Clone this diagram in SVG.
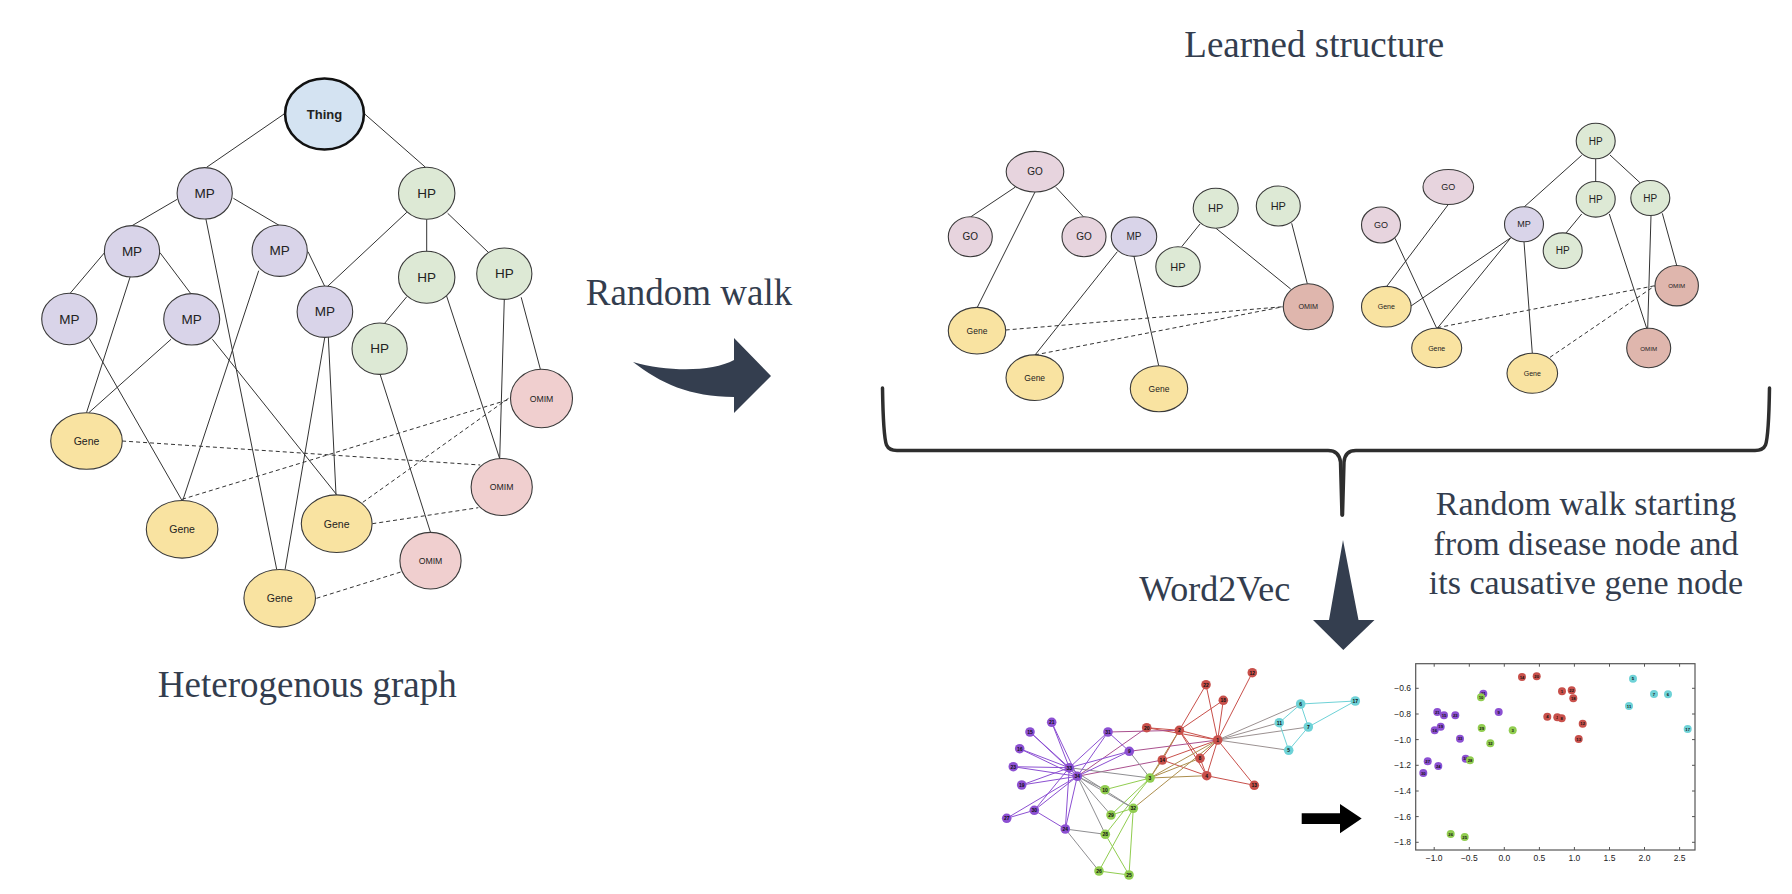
<svg xmlns="http://www.w3.org/2000/svg" width="1792" height="894" viewBox="0 0 1792 894">
<style>
.n{stroke:#3a3a3a;stroke-width:1.1}
.mp{fill:#d9d4e9}.hp{fill:#dde9d5}.gene{fill:#f9e3a1}.omim{fill:#f0cfcf}.omim2{fill:#dfb6ad}.go{fill:#e7d4de}
.thing{fill:#d4e3f2;stroke:#111;stroke-width:2.6}
.e{stroke:#333;stroke-width:1;fill:none}
.d{stroke-dasharray:4 3}
.t{font-family:"Liberation Sans",Arial,sans-serif;text-anchor:middle;dominant-baseline:central;fill:#222}
.ttl{font-family:"Liberation Serif","Times New Roman",serif;fill:#333d4e;text-anchor:middle}
.kn{stroke:none}
.kl{font-family:"Liberation Sans",Arial,sans-serif;font-weight:bold;font-size:5px;text-anchor:middle;dominant-baseline:central;fill:#111}
.sl{font-family:"Liberation Sans",Arial,sans-serif;font-weight:bold;font-size:4.2px;text-anchor:middle;dominant-baseline:central;fill:#111}
.P{fill:#8c50d2}.R{fill:#c8504b}.G{fill:#91cd50}.C{fill:#6ed2d7}
.ax{font-family:"Liberation Sans",Arial,sans-serif;font-size:8.5px;fill:#222}
.ke{fill:none;stroke-width:1}
</style>

<!-- Titles -->
<text class="ttl" x="307.3" y="697" font-size="37">Heterogenous graph</text>
<text class="ttl" x="689" y="305" font-size="37">Random walk</text>
<text class="ttl" x="1314.3" y="57.3" font-size="37">Learned structure</text>
<text class="ttl" x="1214.7" y="601" font-size="36">Word2Vec</text>
<text class="ttl" font-size="34"><tspan x="1586" y="515">Random walk starting</tspan><tspan x="1586" y="554.5">from disease node and</tspan><tspan x="1586" y="594">its causative gene node</tspan></text>

<!-- Arrows and brace -->
<path d="M633,362 C668,372 712,372 734,360 L734,338 L771,376 L734,413 L734,397 C690,397 660,383 633,362 Z" fill="#343e4f"/>
<g fill="none" stroke="#2e2e2e" stroke-width="3.5" stroke-linecap="round" stroke-linejoin="round">
<path d="M882.5,388 C883,420 884,438 886.5,445 Q889,450.5 897,450.5 L1328,450.5 Q1339,450.5 1340.5,462 L1342,515"/>
<path d="M1769.5,388 C1769,420 1768,438 1765.5,445 Q1763,450.5 1755,450.5 L1356,450.5 Q1345,450.5 1344,462 L1342.5,515"/>
</g>
<path d="M1343,540 L1358.5,620 L1374.5,620 L1343.3,650 L1313,620 L1329,620 Z" fill="#343e4f"/>
<path d="M1301.7,813.3 H1340 V804 L1361.7,818.6 L1340,833.3 V824 H1301.7 Z" fill="#000"/>

<!-- Connectors -->
<g id="connectors">
<g class="e">
<path d="M285.1,113.3L206.6,167.3M364.7,114L425.5,167.3M177.2,199.3L132,225.7M233.4,198.3L279.7,225.7M205.9,219L276.7,569.3M104.5,252.7L69.3,294.3M160,252.7L191.3,294.3M130.1,277L86.5,412.7M89.2,338.3L182.1,500.7M171,339.3L88.8,412.7M212.4,339.3L336.7,494.7M258.7,270.7L182.9,500M308,251.7L324.9,286.7M406.8,212.3L327.2,286.7M426.7,219.3L426.7,252.3M447.7,213.3L488.7,252.7M324.9,336.7L285.1,569.3M328.3,336.7L336,494.7M406.8,296.7L384.6,323.3M446.6,296L499.7,458.7M504.3,298.7L499.7,458.7M521.2,297.3L540.3,369M380,374L430.5,532.3"/>
<path class="d" d="M122.1,441L480.2,465M182.1,499.3L510.8,399M362.8,502.3L510.8,396.7M372.3,523.7L478.3,507.7M316.5,598.3L401.8,571.7"/>
<path d="M1015,187.3L971,216.7M1056,187.3L1083.3,216.7M1035,192L977.3,307.3M1117.3,251.7L1035,355M1134,256.4L1158.7,365.7M1200,224L1181.7,246.7M1216,228.3L1290.7,289M1291.7,223.3L1307.3,283.7"/>
<path class="d" d="M1005.7,330L1283.3,306.7M1035,354.9L1283.3,306.7"/>
<path d="M1581.7,155.3L1524.3,206.8M1595.7,158.8L1595.7,181.5M1610,155L1640,182.7M1581.7,214L1566,233M1609.3,214L1646.7,328.3M1651,215.5L1647.7,328.3M1662.3,213.3L1676.7,265.5M1448.3,204.5L1386.7,286.4M1395,238.3L1436.7,328.3M1510,238.3L1411,306M1511.7,236.7L1437.3,328.3M1524,241.8L1532.3,353.3"/>
<path class="d" d="M1437.3,327.7L1655,285.7M1550,357.3L1655,285.7"/>
</g>
<g id="karate-edges" class="ke">
<path stroke="#c8504b" d="M1217.7,740L1179.3,730.3M1217.7,740L1206.7,775.7M1217.7,740L1200,758.3M1217.7,740L1252.3,672.7M1217.7,740L1254.3,785.3M1217.7,740L1162.3,760M1217.7,740L1223.3,700.3M1217.7,740L1146.7,727.7M1217.7,740L1206,684.7M1179.3,730.3L1206.7,775.7M1179.3,730.3L1200,758.3M1179.3,730.3L1162.3,760M1179.3,730.3L1223.3,700.3M1179.3,730.3L1146.7,727.7M1179.3,730.3L1206,684.7M1206.7,775.7L1200,758.3M1206.7,775.7L1254.3,785.3M1206.7,775.7L1162.3,760"/>
<path stroke="#ac8e4d" d="M1217.7,740L1150,778M1217.7,740L1133.3,808.3M1179.3,730.3L1150,778M1150,778L1206.7,775.7M1150,778L1200,758.3M1150,778L1162.3,760"/>
<path stroke="#9b9191" d="M1217.7,740L1288.7,750.3M1217.7,740L1300.7,704M1217.7,740L1308.3,727M1217.7,740L1279.3,722.7"/>
<path stroke="#aa508e" d="M1217.7,740L1129.3,751.3M1179.3,730.3L1108,732M1162.3,760L1077.3,776.3M1146.7,727.7L1077.3,776.3"/>
<path stroke="#91cd50" d="M1150,778L1105,789.7M1150,778L1105.3,834.3M1150,778L1111,815M1129,875L1099,871M1129,875L1105.3,834.3M1129,875L1133.3,808.3M1099,871L1133.3,808.3M1111,815L1133.3,808.3"/>
<path stroke="#8e8e91" d="M1150,778L1129.3,751.3M1150,778L1069.3,767.7M1105,789.7L1077.3,776.3M1065.3,829L1099,871M1065.3,829L1105.3,834.3M1105.3,834.3L1077.3,776.3M1111,815L1077.3,776.3M1133.3,808.3L1069.3,767.7M1133.3,808.3L1077.3,776.3"/>
<path stroke="#6ed2d7" d="M1288.7,750.3L1308.3,727M1288.7,750.3L1279.3,722.7M1300.7,704L1308.3,727M1300.7,704L1279.3,722.7M1300.7,704L1355.3,701M1308.3,727L1355.3,701"/>
<path stroke="#8c50d2" d="M1129.3,751.3L1108,732M1129.3,751.3L1069.3,767.7M1129.3,751.3L1077.3,776.3M1030,732L1069.3,767.7M1030,732L1077.3,776.3M1019.7,748.7L1069.3,767.7M1019.7,748.7L1077.3,776.3M1021.7,785L1069.3,767.7M1021.7,785L1077.3,776.3M1051.7,722.3L1069.3,767.7M1051.7,722.3L1077.3,776.3M1013.3,766.7L1069.3,767.7M1013.3,766.7L1077.3,776.3M1065.3,829L1034.3,810.3M1065.3,829L1069.3,767.7M1065.3,829L1077.3,776.3M1006.7,818.3L1034.3,810.3M1006.7,818.3L1077.3,776.3M1034.3,810.3L1069.3,767.7M1034.3,810.3L1077.3,776.3M1108,732L1069.3,767.7M1108,732L1077.3,776.3M1069.3,767.7L1077.3,776.3"/>
</g>
</g>

<!-- Heterogenous graph nodes -->
<g id="thing"><ellipse class="thing" cx="324.5" cy="114" rx="39.4" ry="35.5"/><text class="t" x="324.5" y="114" font-size="13" font-weight="bold">Thing</text></g>
<g id="mp1"><ellipse class="n mp" cx="204.7" cy="193.3" rx="27.6" ry="25.7"/><text class="t" x="204.7" y="193.3" font-size="13.5">MP</text></g>
<g id="hp1"><ellipse class="n hp" cx="426.7" cy="193.3" rx="28.2" ry="26"/><text class="t" x="426.7" y="193.3" font-size="13.5">HP</text></g>
<g id="mp2"><ellipse class="n mp" cx="132" cy="251.3" rx="27.6" ry="25.7"/><text class="t" x="132" y="251.3" font-size="13.5">MP</text></g>
<g id="mp3"><ellipse class="n mp" cx="279.7" cy="250.7" rx="27.6" ry="25.7"/><text class="t" x="279.7" y="250.7" font-size="13.5">MP</text></g>
<g id="hp2"><ellipse class="n hp" cx="426.7" cy="277.3" rx="28.2" ry="26"/><text class="t" x="426.7" y="277.3" font-size="13.5">HP</text></g>
<g id="hp3"><ellipse class="n hp" cx="504.3" cy="273.7" rx="27.6" ry="25.7"/><text class="t" x="504.3" y="273.7" font-size="13.5">HP</text></g>
<g id="mp4"><ellipse class="n mp" cx="69.3" cy="319" rx="27.6" ry="25.7"/><text class="t" x="69.3" y="319" font-size="13.5">MP</text></g>
<g id="mp5"><ellipse class="n mp" cx="191.7" cy="319.3" rx="28" ry="25.7"/><text class="t" x="191.7" y="319.3" font-size="13.5">MP</text></g>
<g id="mp6"><ellipse class="n mp" cx="324.9" cy="311.7" rx="27.8" ry="25.7"/><text class="t" x="324.9" y="311.7" font-size="13.5">MP</text></g>
<g id="hp4"><ellipse class="n hp" cx="379.6" cy="348.7" rx="27.6" ry="25.7"/><text class="t" x="379.6" y="348.7" font-size="13.5">HP</text></g>
<g id="omim1"><ellipse class="n omim" cx="541.5" cy="398.5" rx="31" ry="29.2"/><text class="t" x="541.5" y="398.5" font-size="8.7">OMIM</text></g>
<g id="omim2"><ellipse class="n omim" cx="501.7" cy="487" rx="30.6" ry="28.5"/><text class="t" x="501.7" y="487" font-size="8.7">OMIM</text></g>
<g id="omim3"><ellipse class="n omim" cx="430.5" cy="560.7" rx="30.6" ry="28.3"/><text class="t" x="430.5" y="560.7" font-size="8.7">OMIM</text></g>
<g id="gene1"><ellipse class="n gene" cx="86.5" cy="441" rx="35.8" ry="28.3"/><text class="t" x="86.5" y="441" font-size="10.5">Gene</text></g>
<g id="gene2"><ellipse class="n gene" cx="182.1" cy="529.3" rx="35.8" ry="28.8"/><text class="t" x="182.1" y="529.3" font-size="10.5">Gene</text></g>
<g id="gene3"><ellipse class="n gene" cx="336.7" cy="523.7" rx="35.4" ry="28.8"/><text class="t" x="336.7" y="523.7" font-size="10.5">Gene</text></g>
<g id="gene4"><ellipse class="n gene" cx="279.7" cy="598.3" rx="35.8" ry="28.8"/><text class="t" x="279.7" y="598.3" font-size="10.5">Gene</text></g>

<!-- Learned structure 1 -->
<g id="ls1-go-top"><ellipse class="n go" cx="1035" cy="171.7" rx="28.8" ry="20.3"/><text class="t" x="1035" y="171.7" font-size="10">GO</text></g>
<g id="ls1-go-left"><ellipse class="n go" cx="970.3" cy="236.7" rx="22" ry="20"/><text class="t" x="970.3" y="236.7" font-size="10">GO</text></g>
<g id="ls1-go-right"><ellipse class="n go" cx="1084" cy="236.7" rx="22" ry="20"/><text class="t" x="1084" y="236.7" font-size="10">GO</text></g>
<g id="ls1-mp"><ellipse class="n mp" cx="1134" cy="236.7" rx="22.7" ry="19.7"/><text class="t" x="1134" y="236.7" font-size="10">MP</text></g>
<g id="ls1-hp-a"><ellipse class="n hp" cx="1215.7" cy="208.3" rx="22.5" ry="20"/><text class="t" x="1215.7" y="208.3" font-size="11">HP</text></g>
<g id="ls1-hp-b"><ellipse class="n hp" cx="1278.3" cy="206" rx="22" ry="20"/><text class="t" x="1278.3" y="206" font-size="11">HP</text></g>
<g id="ls1-hp-c"><ellipse class="n hp" cx="1178" cy="266.7" rx="22.2" ry="20"/><text class="t" x="1178" y="266.7" font-size="11">HP</text></g>
<g id="ls1-omim"><ellipse class="n omim2" cx="1308.3" cy="306.7" rx="25" ry="23"/><text class="t" x="1308.3" y="306.7" font-size="7.2">OMIM</text></g>
<g id="ls1-gene-a"><ellipse class="n gene" cx="977" cy="330.7" rx="28.7" ry="23.3"/><text class="t" x="977" y="330.7" font-size="8.5">Gene</text></g>
<g id="ls1-gene-b"><ellipse class="n gene" cx="1034.7" cy="377.7" rx="28.7" ry="22.8"/><text class="t" x="1034.7" y="377.7" font-size="8.5">Gene</text></g>
<g id="ls1-gene-c"><ellipse class="n gene" cx="1159" cy="388.7" rx="28.7" ry="23"/><text class="t" x="1159" y="388.7" font-size="8.5">Gene</text></g>

<!-- Learned structure 2 -->
<g id="ls2-hp-top"><ellipse class="n hp" cx="1595.7" cy="141" rx="19.5" ry="17.8"/><text class="t" x="1595.7" y="141" font-size="10">HP</text></g>
<g id="ls2-hp-mid"><ellipse class="n hp" cx="1595.7" cy="199.3" rx="19.5" ry="17.8"/><text class="t" x="1595.7" y="199.3" font-size="10">HP</text></g>
<g id="ls2-hp-right"><ellipse class="n hp" cx="1650.3" cy="198" rx="19.5" ry="17.5"/><text class="t" x="1650.3" y="198" font-size="10">HP</text></g>
<g id="ls2-hp-low"><ellipse class="n hp" cx="1562.7" cy="250.7" rx="19.5" ry="17.8"/><text class="t" x="1562.7" y="250.7" font-size="10">HP</text></g>
<g id="ls2-mp"><ellipse class="n mp" cx="1524" cy="224.3" rx="19.5" ry="17.5"/><text class="t" x="1524" y="224.3" font-size="9">MP</text></g>
<g id="ls2-go-top"><ellipse class="n go" cx="1448.3" cy="187" rx="25.3" ry="17.5"/><text class="t" x="1448.3" y="187" font-size="9">GO</text></g>
<g id="ls2-go-left"><ellipse class="n go" cx="1381" cy="225" rx="19.5" ry="18"/><text class="t" x="1381" y="225" font-size="9">GO</text></g>
<g id="ls2-gene-a"><ellipse class="n gene" cx="1386.3" cy="306.7" rx="24.8" ry="20.3"/><text class="t" x="1386.3" y="306.7" font-size="7">Gene</text></g>
<g id="ls2-gene-b"><ellipse class="n gene" cx="1436.7" cy="348" rx="25" ry="19.7"/><text class="t" x="1436.7" y="348" font-size="7">Gene</text></g>
<g id="ls2-gene-c"><ellipse class="n gene" cx="1532.3" cy="373.3" rx="25.3" ry="20"/><text class="t" x="1532.3" y="373.3" font-size="7">Gene</text></g>
<g id="ls2-omim-a"><ellipse class="n omim2" cx="1676.7" cy="285.7" rx="21.7" ry="20.2"/><text class="t" x="1676.7" y="285.7" font-size="6.2">OMIM</text></g>
<g id="ls2-omim-b"><ellipse class="n omim2" cx="1648.7" cy="348" rx="22" ry="19.7"/><text class="t" x="1648.7" y="348" font-size="6.2">OMIM</text></g>

<!-- Karate network nodes -->
<g id="k1"><circle class="kn R" cx="1217.7" cy="740" r="4.8"/><text class="kl" x="1217.7" y="740">1</text></g>
<g id="k2"><circle class="kn R" cx="1179.3" cy="730.3" r="4.8"/><text class="kl" x="1179.3" y="730.3">2</text></g>
<g id="k3"><circle class="kn G" cx="1150" cy="778" r="4.8"/><text class="kl" x="1150" y="778">3</text></g>
<g id="k4"><circle class="kn R" cx="1206.7" cy="775.7" r="4.8"/><text class="kl" x="1206.7" y="775.7">4</text></g>
<g id="k5"><circle class="kn C" cx="1288.7" cy="750.3" r="4.8"/><text class="kl" x="1288.7" y="750.3">5</text></g>
<g id="k6"><circle class="kn C" cx="1300.7" cy="704" r="4.8"/><text class="kl" x="1300.7" y="704">6</text></g>
<g id="k7"><circle class="kn C" cx="1308.3" cy="727" r="4.8"/><text class="kl" x="1308.3" y="727">7</text></g>
<g id="k8"><circle class="kn R" cx="1200" cy="758.3" r="4.8"/><text class="kl" x="1200" y="758.3">8</text></g>
<g id="k9"><circle class="kn P" cx="1129.3" cy="751.3" r="4.8"/><text class="kl" x="1129.3" y="751.3">9</text></g>
<g id="k10"><circle class="kn G" cx="1105" cy="789.7" r="4.8"/><text class="kl" x="1105" y="789.7">10</text></g>
<g id="k11"><circle class="kn C" cx="1279.3" cy="722.7" r="4.8"/><text class="kl" x="1279.3" y="722.7">11</text></g>
<g id="k12"><circle class="kn R" cx="1252.3" cy="672.7" r="4.8"/><text class="kl" x="1252.3" y="672.7">12</text></g>
<g id="k13"><circle class="kn R" cx="1254.3" cy="785.3" r="4.8"/><text class="kl" x="1254.3" y="785.3">13</text></g>
<g id="k14"><circle class="kn R" cx="1162.3" cy="760" r="4.8"/><text class="kl" x="1162.3" y="760">14</text></g>
<g id="k15"><circle class="kn P" cx="1030" cy="732" r="4.8"/><text class="kl" x="1030" y="732">15</text></g>
<g id="k16"><circle class="kn P" cx="1019.7" cy="748.7" r="4.8"/><text class="kl" x="1019.7" y="748.7">16</text></g>
<g id="k17"><circle class="kn C" cx="1355.3" cy="701" r="4.8"/><text class="kl" x="1355.3" y="701">17</text></g>
<g id="k18"><circle class="kn R" cx="1223.3" cy="700.3" r="4.8"/><text class="kl" x="1223.3" y="700.3">18</text></g>
<g id="k19"><circle class="kn P" cx="1021.7" cy="785" r="4.8"/><text class="kl" x="1021.7" y="785">19</text></g>
<g id="k20"><circle class="kn R" cx="1146.7" cy="727.7" r="4.8"/><text class="kl" x="1146.7" y="727.7">20</text></g>
<g id="k21"><circle class="kn P" cx="1051.7" cy="722.3" r="4.8"/><text class="kl" x="1051.7" y="722.3">21</text></g>
<g id="k22"><circle class="kn R" cx="1206" cy="684.7" r="4.8"/><text class="kl" x="1206" y="684.7">22</text></g>
<g id="k23"><circle class="kn P" cx="1013.3" cy="766.7" r="4.8"/><text class="kl" x="1013.3" y="766.7">23</text></g>
<g id="k24"><circle class="kn P" cx="1065.3" cy="829" r="4.8"/><text class="kl" x="1065.3" y="829">24</text></g>
<g id="k25"><circle class="kn G" cx="1129" cy="875" r="4.8"/><text class="kl" x="1129" y="875">25</text></g>
<g id="k26"><circle class="kn G" cx="1099" cy="871" r="4.8"/><text class="kl" x="1099" y="871">26</text></g>
<g id="k27"><circle class="kn P" cx="1006.7" cy="818.3" r="4.8"/><text class="kl" x="1006.7" y="818.3">27</text></g>
<g id="k28"><circle class="kn G" cx="1105.3" cy="834.3" r="4.8"/><text class="kl" x="1105.3" y="834.3">28</text></g>
<g id="k29"><circle class="kn G" cx="1111" cy="815" r="4.8"/><text class="kl" x="1111" y="815">29</text></g>
<g id="k30"><circle class="kn P" cx="1034.3" cy="810.3" r="4.8"/><text class="kl" x="1034.3" y="810.3">30</text></g>
<g id="k31"><circle class="kn P" cx="1108" cy="732" r="4.8"/><text class="kl" x="1108" y="732">31</text></g>
<g id="k32"><circle class="kn G" cx="1133.3" cy="808.3" r="4.8"/><text class="kl" x="1133.3" y="808.3">32</text></g>
<g id="k33"><circle class="kn P" cx="1069.3" cy="767.7" r="4.8"/><text class="kl" x="1069.3" y="767.7">33</text></g>
<g id="k34"><circle class="kn P" cx="1077.3" cy="776.3" r="4.8"/><text class="kl" x="1077.3" y="776.3">34</text></g>

<!-- Scatter plot -->
<g id="scatter">
<rect x="1415.7" y="663.7" width="279.3" height="186.3" fill="none" stroke="#555" stroke-width="1.2"/>
<path stroke="#555" stroke-width="1" d="M1434.2,850v-3M1469.3,850v-3M1504.3,850v-3M1539.4,850v-3M1574.4,850v-3M1609.5,850v-3M1644.5,850v-3M1679.6,850v-3M1434.2,663.7v3M1469.3,663.7v3M1504.3,663.7v3M1539.4,663.7v3M1574.4,663.7v3M1609.5,663.7v3M1644.5,663.7v3M1679.6,663.7v3M1415.7,688.3h3M1415.7,714h3M1415.7,739.6h3M1415.7,765.3h3M1415.7,791h3M1415.7,816.6h3M1415.7,842.3h3M1695,688.3h-3M1695,714h-3M1695,739.6h-3M1695,765.3h-3M1695,791h-3M1695,816.6h-3M1695,842.3h-3"/>
<g class="ax" text-anchor="end" dominant-baseline="central">
<text x="1411" y="688.3">−0.6</text><text x="1411" y="714">−0.8</text><text x="1411" y="739.6">−1.0</text><text x="1411" y="765.3">−1.2</text><text x="1411" y="791">−1.4</text><text x="1411" y="816.6">−1.6</text><text x="1411" y="842.3">−1.8</text>
</g>
<g class="ax" text-anchor="middle">
<text x="1434.2" y="860.5">−1.0</text><text x="1469.3" y="860.5">−0.5</text><text x="1504.3" y="860.5">0.0</text><text x="1539.4" y="860.5">0.5</text><text x="1574.4" y="860.5">1.0</text><text x="1609.5" y="860.5">1.5</text><text x="1644.5" y="860.5">2.0</text><text x="1679.6" y="860.5">2.5</text>
</g>
<circle class="R" cx="1522" cy="677" r="4"/><text class="sl" x="1522" y="677">14</text>
<circle class="R" cx="1536.7" cy="676.3" r="4"/><text class="sl" x="1536.7" y="676.3">20</text>
<circle class="R" cx="1562" cy="691.3" r="4"/><text class="sl" x="1562" y="691.3">1</text>
<circle class="R" cx="1571.7" cy="690.3" r="4"/><text class="sl" x="1571.7" y="690.3">22</text>
<circle class="R" cx="1573.3" cy="698.3" r="4"/><text class="sl" x="1573.3" y="698.3">18</text>
<circle class="R" cx="1547.3" cy="716.7" r="4"/><text class="sl" x="1547.3" y="716.7">4</text>
<circle class="R" cx="1557.3" cy="717.3" r="4"/><text class="sl" x="1557.3" y="717.3">2</text>
<circle class="R" cx="1561.7" cy="718.3" r="4"/><text class="sl" x="1561.7" y="718.3">8</text>
<circle class="R" cx="1582.7" cy="723.7" r="4"/><text class="sl" x="1582.7" y="723.7">12</text>
<circle class="R" cx="1578.7" cy="739" r="4"/><text class="sl" x="1578.7" y="739">13</text>
<circle class="C" cx="1633" cy="678.7" r="4"/><text class="sl" x="1633" y="678.7">5</text>
<circle class="C" cx="1654" cy="694" r="4"/><text class="sl" x="1654" y="694">7</text>
<circle class="C" cx="1668" cy="694.3" r="4"/><text class="sl" x="1668" y="694.3">6</text>
<circle class="C" cx="1629" cy="706" r="4"/><text class="sl" x="1629" y="706">11</text>
<circle class="C" cx="1687.7" cy="729" r="4"/><text class="sl" x="1687.7" y="729">17</text>
<circle class="P" cx="1483.3" cy="693.7" r="4"/><text class="sl" x="1483.3" y="693.7">31</text>
<circle class="G" cx="1481" cy="697.3" r="4"/><text class="sl" x="1481" y="697.3">10</text>
<circle class="P" cx="1498.7" cy="712" r="4"/><text class="sl" x="1498.7" y="712">9</text>
<circle class="P" cx="1437.3" cy="712" r="4"/><text class="sl" x="1437.3" y="712">21</text>
<circle class="P" cx="1444" cy="715.3" r="4"/><text class="sl" x="1444" y="715.3">15</text>
<circle class="P" cx="1455.3" cy="715.3" r="4"/><text class="sl" x="1455.3" y="715.3">23</text>
<circle class="P" cx="1440.7" cy="726.7" r="4"/><text class="sl" x="1440.7" y="726.7">19</text>
<circle class="P" cx="1434.7" cy="730.3" r="4"/><text class="sl" x="1434.7" y="730.3">16</text>
<circle class="P" cx="1460" cy="738.7" r="4"/><text class="sl" x="1460" y="738.7">33</text>
<circle class="P" cx="1465.7" cy="758.7" r="4"/><text class="sl" x="1465.7" y="758.7">34</text>
<circle class="G" cx="1470" cy="760.3" r="4"/><text class="sl" x="1470" y="760.3">28</text>
<circle class="P" cx="1427.7" cy="761.3" r="4"/><text class="sl" x="1427.7" y="761.3">27</text>
<circle class="P" cx="1438.3" cy="766" r="4"/><text class="sl" x="1438.3" y="766">24</text>
<circle class="P" cx="1423.3" cy="773" r="4"/><text class="sl" x="1423.3" y="773">30</text>
<circle class="G" cx="1481.7" cy="728" r="4"/><text class="sl" x="1481.7" y="728">29</text>
<circle class="G" cx="1512.7" cy="730.3" r="4"/><text class="sl" x="1512.7" y="730.3">3</text>
<circle class="G" cx="1490.3" cy="743.3" r="4"/><text class="sl" x="1490.3" y="743.3">32</text>
<circle class="G" cx="1450.7" cy="834" r="4"/><text class="sl" x="1450.7" y="834">26</text>
<circle class="G" cx="1464.7" cy="837" r="4"/><text class="sl" x="1464.7" y="837">25</text>
</g>
</svg>
